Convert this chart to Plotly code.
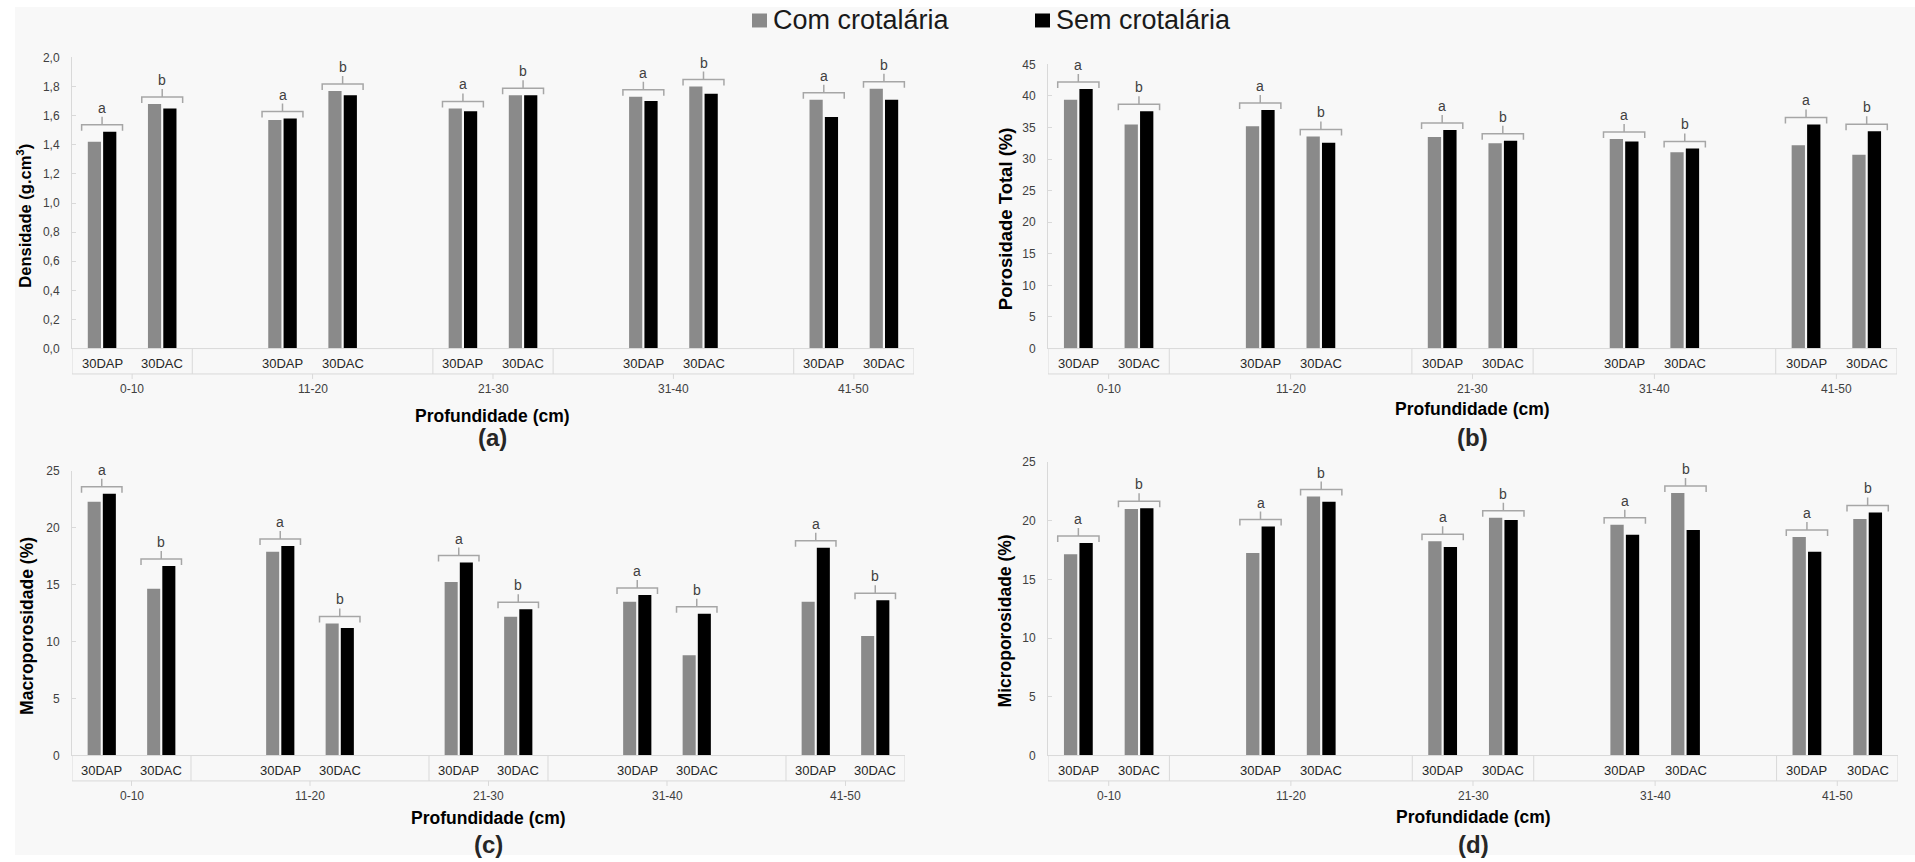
import plotly.graph_objects as go
from plotly.subplots import make_subplots

# ------------------------------------------------------------------ data
GROUPS = ["0-10", "11-20", "21-30", "31-40", "41-50"]
TREATMENTS = ["30DAP", "30DAC"]
LETTERS = ["a", "b"]                 # significance letter per treatment
GROUP_PAD = [0, 1, 0, 1, 0]          # blank categories on each side of a group (Excel layout)
SERIES = ["Com crotalária", "Sem crotalária"]

# values ordered group by group: (0-10 DAP, 0-10 DAC, 11-20 DAP, ...)
DENS_COM = [1.42, 1.68, 1.57, 1.77, 1.65, 1.74, 1.73, 1.80, 1.71, 1.785]
DENS_SEM = [1.49, 1.65, 1.58, 1.74, 1.63, 1.74, 1.70, 1.75, 1.59, 1.71]

PT_COM = [39.4, 35.5, 35.2, 33.6, 33.5, 32.5, 33.2, 31.1, 32.2, 30.7]
PT_SEM = [41.1, 37.6, 37.8, 32.6, 34.6, 32.9, 32.8, 31.7, 35.5, 34.4]

MACRO_COM = [22.3, 14.65, 17.9, 11.6, 15.25, 12.2, 13.5, 8.8, 13.5, 10.5]
MACRO_SEM = [23.0, 16.65, 18.4, 11.2, 16.95, 12.85, 14.1, 12.45, 18.25, 13.65]

MICRO_COM = [17.15, 21.0, 17.25, 22.05, 18.25, 20.25, 19.65, 22.35, 18.6, 20.15]
MICRO_SEM = [18.1, 21.05, 19.5, 21.6, 17.75, 20.05, 18.8, 19.2, 17.35, 20.7]

Y_TITLES = ["Densidade (g.cm<sup>3</sup>)", "Porosidade Total (%)",
            "Macroporosidade (%)", "Microporosidade (%)"]
X_TITLE = "Profundidade (cm)"
PANEL_TAGS = ["(a)", "(b)", "(c)", "(d)"]
Y_MAX = [2.0, 45, 25, 25]
Y_DTICK = [0.2, 5, 5, 5]
Y_FORMAT = [".1f", "d", "d", "d"]

PANEL_DATA = [(DENS_COM, DENS_SEM), (PT_COM, PT_SEM),
              (MACRO_COM, MACRO_SEM), (MICRO_COM, MICRO_SEM)]

# ------------------------------------------------------------------ style / layout
W, H = 1915, 862
FONT = "Liberation Sans, Arial, Helvetica, sans-serif"
COLORS = ["#8a8a8a", "#000000"]
AXIS_GRAY = "#d9d9d9"
BRACKET_GRAY = "#a6a6a6"
TXT = "#404040"

# vertical calibration of the photographed page (target px -> figure px)
V_OFF, V_SCALE = 6.5, 0.985


def Y(y_target):
    return (y_target - V_OFF) / V_SCALE


def S(d):
    return d / V_SCALE


BOX_PX = S(25)

# plot-area pixel boxes in target pixels: left, right, top, bottom
PANEL_PX = [(72, 914, 57, 348.5), (1048, 1897, 64, 348.5),
            (72, 905, 471, 756), (1048, 1898, 462, 756)]
XTITLE_SHIFT = [-66, -60, -62, -61]
YTITLE_SHIFT = [-48, -43, -45, -43]
YTITLE_SIZE = [16.5, 18.5, 17.5, 17.5]


def px(x):
    return x / W


def py(y_fig):
    return 1 - y_fig / H


# slot positions (Excel-like blank categories around some groups)
slot_x, group_span = [], []
pos = 0
for pad in GROUP_PAD:
    start = pos
    pos += pad
    for _ in TREATMENTS:
        slot_x.append(pos)
        pos += 1
    pos += pad
    group_span.append((start, pos))
N_SLOTS = pos

fig = make_subplots(rows=2, cols=2)

shapes, annotations = [], []

# page background (light gray with white margins like the reference)
shapes.append(dict(type="rect", xref="paper", yref="paper", layer="below",
                   x0=px(15), x1=1, y0=0, y1=1,
                   fillcolor="#f8f8f8", line=dict(width=0)))

cat_labels = [t for _ in GROUPS for t in TREATMENTS]

for k, (com, sem) in enumerate(PANEL_DATA):
    r, c = divmod(k, 2)
    sfx = "" if k == 0 else str(k + 1)
    xr, yr = "x" + sfx, "y" + sfx
    for name, vals, col in zip(SERIES, (com, sem), COLORS):
        fig.add_trace(go.Bar(x=slot_x, y=vals, name=name, marker_color=col,
                             marker_line_width=0, showlegend=False,
                             customdata=cat_labels,
                             hovertemplate=name + "<br>%{customdata}: %{y}<extra></extra>"),
                      row=r + 1, col=c + 1)

    L, R, T, B = PANEL_PX[k]
    fig.layout["xaxis" + sfx].update(
        domain=[px(L), px(R)], range=[-0.5, N_SLOTS - 0.5], showticklabels=False,
        showline=False, ticks="", showgrid=False, zeroline=False)
    fig.layout["yaxis" + sfx].update(
        domain=[py(Y(B)), py(Y(T))], range=[0, Y_MAX[k]], dtick=Y_DTICK[k], tick0=0,
        tickformat=Y_FORMAT[k], showline=True, linecolor=AXIS_GRAY, linewidth=1,
        ticks="inside", ticklen=4, tickcolor=AXIS_GRAY, showgrid=False,
        zeroline=False, ticklabelstandoff=9,
        tickfont=dict(size=12, color=TXT, family=FONT))

    xd, yd = xr + " domain", yr + " domain"
    # category box below the axis
    shapes.append(dict(type="rect", xref=xr, yref=yd, ysizemode="pixel", yanchor=0,
                       x0=-0.5, x1=N_SLOTS - 0.5, y0=0, y1=-BOX_PX,
                       line=dict(color=AXIS_GRAY, width=1)))
    for gi, (s, e) in enumerate(group_span):
        gc = (s + e - 1) / 2
        if gi < len(group_span) - 1:
            shapes.append(dict(type="line", xref=xr, yref=yd, ysizemode="pixel",
                               yanchor=0, x0=e - 0.5, x1=e - 0.5, y0=0, y1=-BOX_PX,
                               line=dict(color=AXIS_GRAY, width=1)))
        shapes.append(dict(type="line", xref=xr, yref=yd, ysizemode="pixel",
                           yanchor=0, x0=gc, x1=gc, y0=-BOX_PX, y1=-BOX_PX - 5,
                           line=dict(color=AXIS_GRAY, width=1)))
        annotations.append(dict(xref=xr, yref=yd, x=gc, y=0, yshift=S(-39.5),
                                text=GROUPS[gi], showarrow=False, yanchor="middle",
                                font=dict(size=12, color=TXT, family=FONT)))
    for i, xv in enumerate(slot_x):
        annotations.append(dict(xref=xr, yref=yd, x=xv, y=0, yshift=S(-15),
                                text=cat_labels[i], showarrow=False, yanchor="middle",
                                font=dict(size=13, color="#262626", family=FONT)))
        # bracket + letter over each bar pair
        top = max(com[i], sem[i])
        xl, xrr = xv - 0.34, xv + 0.34
        shapes.append(dict(type="path", xref=xr, yref=yr, ysizemode="pixel",
                           yanchor=top,
                           path=f"M{xl},1 L{xl},7 L{xrr},7 L{xrr},1 M{xv},7 L{xv},15",
                           line=dict(color=BRACKET_GRAY, width=1.5)))
        annotations.append(dict(xref=xr, yref=yr, x=xv, y=top, yshift=14,
                                text=LETTERS[i % 2], showarrow=False, yanchor="bottom",
                                font=dict(size=14, color=TXT, family=FONT)))

    # titles
    annotations.append(dict(xref=xd, yref=yd, x=0.5, y=0, yshift=S(XTITLE_SHIFT[k]),
                            text=X_TITLE, showarrow=False, yanchor="middle",
                            font=dict(size=17.5, color="#000000", family=FONT,
                                      weight="bold")))
    annotations.append(dict(xref=xd, yref=yd, x=0.5, y=0, yshift=S(-88),
                            text=PANEL_TAGS[k], showarrow=False, yanchor="middle",
                            font=dict(size=24, color="#262626", family=FONT,
                                      weight="bold")))
    annotations.append(dict(xref=xd, yref=yd, x=0, xshift=YTITLE_SHIFT[k], y=0.5,
                            yshift=-BOX_PX / 2, text=Y_TITLES[k], showarrow=False,
                            textangle=-90, xanchor="center", yanchor="middle",
                            font=dict(size=YTITLE_SIZE[k], color="#000000",
                                      family=FONT, weight="bold")))

# legend (drawn like the Excel legend)
LEG_X = [752, 1035]
for name, col, lx in zip(SERIES, COLORS, LEG_X):
    shapes.append(dict(type="rect", xref="paper", yref="paper",
                       x0=px(lx), x1=px(lx + 15), y0=py(Y(27)), y1=py(Y(13)),
                       fillcolor=col, line=dict(width=0)))
    annotations.append(dict(xref="paper", yref="paper", x=px(lx + 19), y=py(Y(20)),
                            text=name, showarrow=False, xanchor="left",
                            yanchor="middle",
                            font=dict(size=27, color="#1a1a1a", family=FONT)))

fig.update_layout(
    width=W, height=H, margin=dict(l=0, r=0, t=0, b=0),
    paper_bgcolor="#ffffff", plot_bgcolor="rgba(0,0,0,0)",
    barmode="group", bargap=0.49, bargroupgap=0.14,
    separators=",.", font=dict(family=FONT),
    shapes=shapes, annotations=annotations, showlegend=False,
)

POST = (
    "var de=document.documentElement, b=document.body;"
    "de.style.margin='0';de.style.padding='0';de.style.overflow='hidden';"
    "b.style.margin='0';b.style.padding='0';b.style.overflow='hidden';"
)

fig.write_html("out.html", config={"displayModeBar": False}, post_script=POST)
